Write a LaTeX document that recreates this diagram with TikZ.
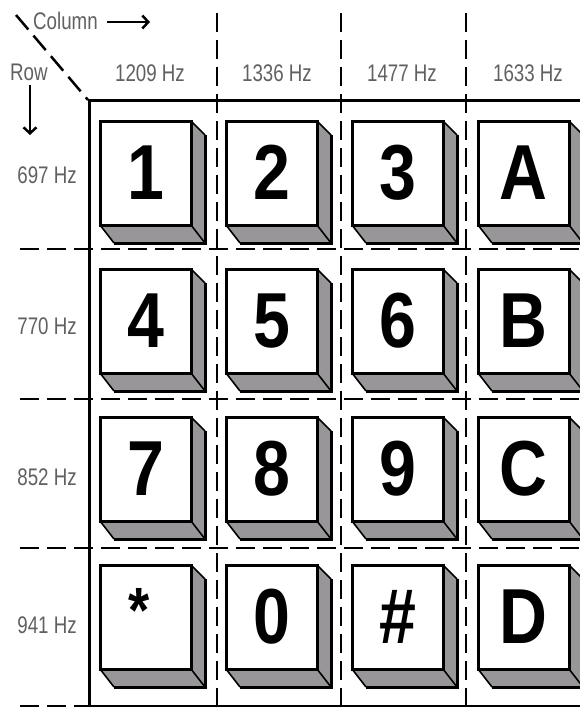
\documentclass[tikz,border=0pt]{standalone}
\usepackage{fontspec}
\setmainfont{Liberation Sans}
\usepackage{graphicx}
\usetikzlibrary{calc,arrows.meta}
\pgfdeclarelayer{bg}
\pgfsetlayers{bg,main}
\definecolor{keyshade}{RGB}{152,150,152}
\newcommand\keyfont{\fontsize{78}{80}\selectfont\bfseries}
\newcommand\lblfont{\fontsize{24}{26}\selectfont}
\newcommand\starglyph{\kern-16pt\raisebox{12pt}{\fontsize{64}{64}\selectfont *}}
\newcommand\dtmfkey[4]{%
  \node[keyface] (#1) at (#2,#3) {\scalebox{0.85}[1]{\vphantom{0}#4}};
  \begin{pgfonlayer}{bg}
    \fill[keyshade] (#1.north east) -- ($(#1.north east)+(14,14)$) -- ($(#1.south east)+(14,18)$) -- ($(#1.south west)+(14,18)$) -- (#1.south west) -- cycle;
  \end{pgfonlayer}
  \draw[shadeedge] ($(#1.north east)+(14,14)$) -- ($(#1.south east)+(14,18)$) -- ($(#1.south west)+(14,18)$);
  \draw[shadeslant] (#1.north east) -- ++(14,14) (#1.south east) -- ++(14,18) (#1.south west) -- ++(14,18);
}
\tikzset{
  keyface/.style={rectangle, draw, line width=3pt, fill=white, minimum width=91pt, minimum height=104pt,
    inner sep=0pt, outer sep=0pt, anchor=north west, font=\keyfont},
  shadeedge/.style={line width=3pt, line join=miter},
  shadeslant/.style={line width=1.6pt},
  gridline/.style={line width=2.5pt, dash pattern=on 19pt off 8pt},
  frameline/.style={line width=3pt},
  freq/.style={font=\lblfont, text=black!62, inner sep=0pt, anchor=base},
  arrowline/.style={line width=2.5pt, -{Straight Barb[length=6pt,width=13pt,line width=2.5pt]}}
}
\begin{document}
\begin{tikzpicture}[x=1pt,y=-1pt]
\path[use as bounding box] (0,0) rectangle (580,707);
\clip (0,0) rectangle (580,707);
\begin{pgfonlayer}{bg}
\fill[white] (0,0) rectangle (580,707);
\end{pgfonlayer}

% header labels
\node[freq, anchor=base west] (colT) at (33,29) {\scalebox{0.78}[1]{Column}};
\node[freq, anchor=base west] (rowT) at (10,80) {\scalebox{0.78}[1]{Row}};
\coordinate (colA) at (107,22);
\coordinate (colB) at (150,22);
\draw[arrowline] (colA) -- (colB);
\coordinate (rowA) at (30,85);
\coordinate (rowB) at (30,135);
\draw[arrowline] (rowA) -- (rowB);
\coordinate (diagA) at (16,15);
\coordinate (diagB) at (88,100);
\draw[gridline] (diagA) -- (diagB);

\node[freq] (c1) at (150,81) {\scalebox{0.78}[1]{1209 Hz}};
\node[freq] (c2) at (277,81) {\scalebox{0.78}[1]{1336 Hz}};
\node[freq] (c3) at (402,81) {\scalebox{0.78}[1]{1477 Hz}};
\node[freq] (c4) at (528,81) {\scalebox{0.78}[1]{1633 Hz}};
\node[freq] (r1) at (47,183) {\scalebox{0.78}[1]{697 Hz}};
\node[freq] (r2) at (47,334) {\scalebox{0.78}[1]{770 Hz}};
\node[freq] (r3) at (47,485) {\scalebox{0.78}[1]{852 Hz}};
\node[freq] (r4) at (47,633) {\scalebox{0.78}[1]{941 Hz}};

% grid
\foreach \gx/\gn in {217/va,341/vb,466/vc}{
  \coordinate (\gn1) at (\gx,13);
  \coordinate (\gn2) at (\gx,707);
  \draw[gridline] (\gn1) -- (\gn2);
}
\foreach \gy/\gn in {249/ha,399/hb,548/hc,706/hd}{
  \coordinate (\gn1) at (20,\gy);
  \coordinate (\gn2) at (580,\gy);
  \draw[gridline] (\gn1) -- (\gn2);
}
% frame
\coordinate (fTL) at (89,100);
\coordinate (fTR) at (582,100);
\coordinate (fBL) at (89,706);
\coordinate (fBR) at (582,706);
\draw[frameline] (fTR) -- (fTL) -- (fBL) -- (fBR);

% keys
\dtmfkey{k1}{100}{121}{1}
\dtmfkey{k2}{226}{121}{2}
\dtmfkey{k3}{352}{121}{3}
\dtmfkey{kA}{478}{121}{A}
\dtmfkey{k4}{100}{269}{4}
\dtmfkey{k5}{226}{269}{5}
\dtmfkey{k6}{352}{269}{6}
\dtmfkey{kB}{478}{269}{B}
\dtmfkey{k7}{100}{417}{7}
\dtmfkey{k8}{226}{417}{8}
\dtmfkey{k9}{352}{417}{9}
\dtmfkey{kC}{478}{417}{C}
\dtmfkey{kS}{100}{565}{\starglyph}
\dtmfkey{k0}{226}{565}{0}
\dtmfkey{kH}{352}{565}{\#}
\dtmfkey{kD}{478}{565}{D}
\end{tikzpicture}
\end{document}
